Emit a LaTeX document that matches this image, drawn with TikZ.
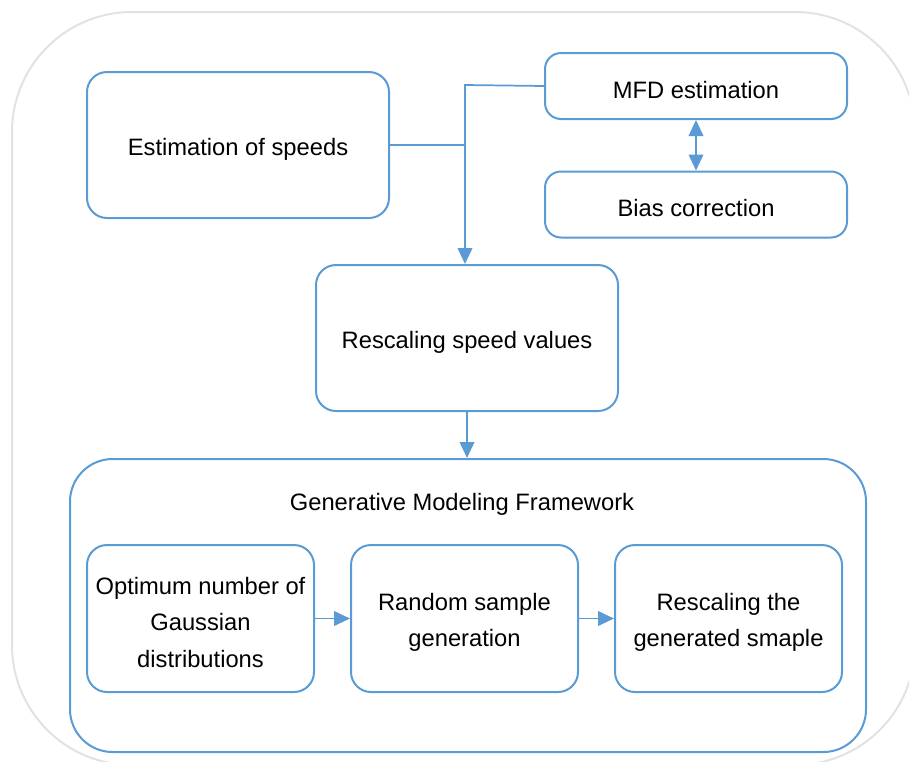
\documentclass[tikz,border=0pt]{standalone}
\usepackage{fontspec}
\setmainfont{Liberation Sans}
\usetikzlibrary{arrows.meta}
\definecolor{boxblue}{RGB}{91,155,213}
\definecolor{framegray}{RGB}{226,226,226}
\tikzset{
  blockbox/.style={draw=boxblue, line width=1.5pt, rounded corners=15pt, inner sep=0pt},
  flatbox/.style={blockbox, rounded corners=12pt},
  boxtext/.style={font=\fontsize{17.8}{27.4}\selectfont, align=center, inner sep=0pt, yshift=-3pt},
  flowline/.style={draw=boxblue, line width=1.3pt},
  flowarrow/.style={flowline, -{Triangle[length=12pt,width=11pt]}},
}
\begin{document}
\begin{tikzpicture}[x=0.75pt,y=0.75pt,yscale=-1,xscale=1]
        \useasboundingbox (0,0) rectangle (909,761);
        \clip (0,0) rectangle (909,761);
        
        %Outer frame
        \draw [draw=framegray, line width=1.5pt, rounded corners=90pt] (12,12) rectangle (915,765);
        
        % Upper blocks
        \node [blockbox, minimum width=226.5pt, minimum height=109.5pt, label={[boxtext]center:Estimation of speeds}] (speeds) at (238,145) {};
        \node [flatbox, minimum width=226.5pt, minimum height=49.5pt, label={[boxtext]center:MFD estimation}] (mfd) at (696,86) {};
        \node [flatbox, minimum width=226.5pt, minimum height=49.5pt, label={[boxtext]center:Bias correction}] (bias) at (696,204.5) {};
        \node [blockbox, minimum width=226.5pt, minimum height=109.5pt, label={[boxtext]center:Rescaling speed values}] (rescale) at (467,338) {};
        
        % Framework block
        \node [blockbox, rounded corners=32pt, minimum width=597pt, minimum height=219.75pt] (gmf) at (468,605.5) {};
        \node [boxtext, yshift=0pt] (gmftitle) at (462,500) {Generative Modeling Framework};
        \node [blockbox, minimum width=170.25pt, minimum height=110.25pt, label={[boxtext]center:Optimum number of\\Gaussian\\distributions}] (optimum) at (200.5,618.5) {};
        \node [blockbox, minimum width=170.25pt, minimum height=110.25pt, label={[boxtext]center:Random sample\\generation}] (sample) at (464.5,618.5) {};
        \node [blockbox, minimum width=170.25pt, minimum height=110.25pt, label={[boxtext]center:Rescaling the\\generated smaple}] (regen) at (728.5,618.5) {};
        
        % Connectors
        \coordinate (junction) at (465,85);
        \draw [flowline] (speeds.east) -- (speeds.east -| junction);
        \draw [flowarrow] (mfd.west) -- (junction) -- (junction |- rescale.north);
        \draw [flowline, {Triangle[length=12pt,width=11pt]}-{Triangle[length=12pt,width=11pt]}] (mfd.south) -- (bias.north);
        \draw [flowarrow] (rescale.south) -- (gmf.north -| rescale.south);
        \draw [flowarrow] (optimum.east) -- (sample.west);
        \draw [flowarrow] (sample.east) -- (regen.west);
        
\end{tikzpicture}
\end{document}
